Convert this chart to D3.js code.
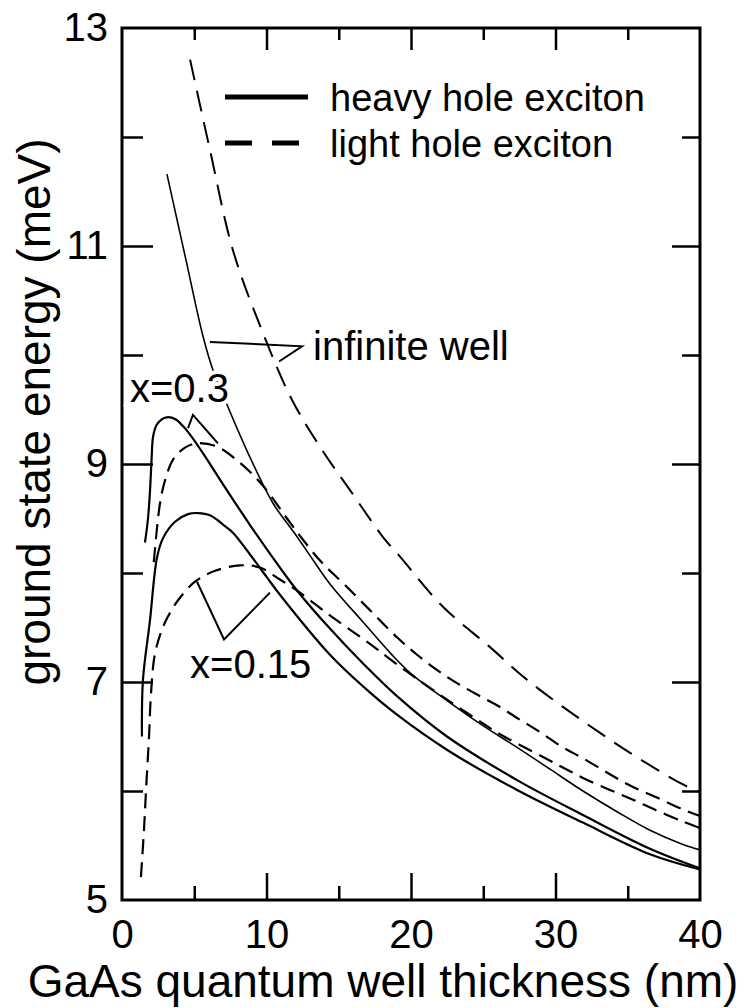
<!DOCTYPE html>
<html>
<head>
<meta charset="utf-8">
<script src="https://cdn.jsdelivr.net/npm/d3@7"></script>
<style>
  body { margin: 0; background: #fff; }
  svg { display: block; font-family: "Liberation Sans", Arial, sans-serif; }
  .tick line { stroke: #000; stroke-width: 2.5px; }
  .tick text { font-size: 40px; fill: #000; }
</style>
</head>
<body>
<svg id="chart" width="744" height="1008"></svg>
<script>
// ground state exciton binding energy (meV) vs. well thickness (nm)
var infiniteLH = [[4.71,12.71],[6.09,11.88],[7.68,10.96],[9.76,10.20],[11.76,9.59],[13.84,9.13],
  [15.78,8.76],[18.06,8.33],[19.24,8.15],[22.21,7.69],[25.47,7.32],[28.03,7.02],[31.49,6.68],
  [35.16,6.35],[38.82,6.06],[40,5.99]];
var infiniteHH = [[3.11,11.66],[4.43,10.87],[5.61,10.17],[6.30,9.86],[7.47,9.48],[8.86,9.06],
  [10.45,8.64],[11.97,8.36],[13.22,8.12],[14.39,7.90],[16.68,7.55],[18.75,7.24],[20.14,7.06],
  [22.49,6.83],[24.98,6.60],[27.34,6.40],[29.62,6.20],[31.90,6.00],[34.26,5.81],[36.54,5.64],
  [38.82,5.51],[40,5.46]];
var x03LH = [[2.20,8.10],[2.63,8.64],[3.00,8.86],[3.53,9.04],[4.36,9.15],[5.19,9.19],[6.57,9.16],
  [8.17,9.01],[9.76,8.80],[11.42,8.50],[12.32,8.34],[13.80,8.10],[15.43,7.89],[17.37,7.63],
  [19.03,7.41],[20.42,7.25],[22.01,7.09],[23.18,6.99],[24.64,6.88],[26.16,6.77],[27.34,6.67],
  [28.93,6.54],[30.52,6.40],[31.90,6.30],[33.56,6.17],[35.16,6.05],[37.02,5.94],[38.82,5.83],
  [40,5.77]];
var x03HH = [[1.59,8.28],[1.80,8.50],[1.94,8.76],[2.05,9.05],[2.15,9.25],[2.40,9.36],[2.75,9.41],
  [3.18,9.43],[3.70,9.41],[4.20,9.35],[4.71,9.27],[5.60,9.10],[6.57,8.90],[8.86,8.44],
  [10.93,8.05],[12.11,7.84],[14.39,7.49],[16.68,7.17],[19.03,6.87],[22.49,6.50],[27.34,6.10],
  [31.90,5.78],[36.54,5.47],[40,5.29]];
var x015LH = [[1.31,5.21],[1.52,5.64],[1.66,6.00],[1.87,6.50],[2.01,6.90],[2.28,7.26],[2.77,7.48],
  [3.18,7.60],[3.88,7.75],[5.05,7.92],[6.44,8.02],[8.17,8.07],[9.55,8.05],[10.93,7.94],
  [12.32,7.82],[14.19,7.63],[15.99,7.46],[17.37,7.33],[18.34,7.23],[20.62,7.01],[22.70,6.82],
  [24.98,6.62],[26.16,6.52],[28.44,6.36],[30.31,6.23],[31.90,6.12],[33.77,6.01],[35.36,5.92],
  [37.02,5.82],[38.82,5.72],[40,5.66]];
var x015HH = [[1.38,6.50],[1.45,7.02],[1.94,7.57],[2.42,8.14],[2.84,8.32],[3.67,8.47],[4.57,8.54],
  [5.26,8.55],[6.09,8.53],[7.13,8.43],[7.68,8.37],[8.86,8.17],[10.03,7.96],[10.93,7.80],
  [14.39,7.25],[16.68,6.96],[19.03,6.70],[22.70,6.36],[27.34,6.01],[31.90,5.71],[36.54,5.42],
  [40,5.28]];

// label pointers, in data units
var infWellPointer = [[6.09,10.12],[12.46,10.08],[10.87,9.94]];
var x03Pointer = [[4.57,9.33],[4.91,9.45],[6.64,9.19]];
var x015Pointer = [[5.19,7.92],[7.06,7.39],[10.24,7.82]];

var xLabelTicks = [0,10,20,30,40];
var xMajorTicks = [10,20,30];
var xMinorTicks = [5,15,25,35];
var yLabelTicks = [13,11,9,7,5];
var yMajorTicks = [11,9,7];
var yMinorTicks = [12,10,8,6];

var svg = d3.select('#chart');
var x = d3.scaleLinear().domain([0,40]).range([122,700]);
var y = d3.scaleLinear().domain([5,13]).range([900,28]);

function noDomain(g) { g.select('.domain').remove(); }

// ticks point inward on all four sides
svg.append('g').attr('transform','translate(122,0)')
  .call(d3.axisLeft(y).tickValues(yLabelTicks).tickSize(0).tickPadding(14).tickFormat(d3.format('d')))
  .call(noDomain);
svg.append('g').attr('transform','translate(122,0)')
  .call(d3.axisLeft(y).tickValues(yMajorTicks).tickSize(-31).tickFormat('')).call(noDomain);
svg.append('g').attr('transform','translate(122,0)')
  .call(d3.axisLeft(y).tickValues(yMinorTicks).tickSize(-21).tickFormat('')).call(noDomain);
svg.append('g').attr('transform','translate(700,0)')
  .call(d3.axisRight(y).tickValues(yMajorTicks).tickSize(-28).tickFormat('')).call(noDomain);
svg.append('g').attr('transform','translate(700,0)')
  .call(d3.axisRight(y).tickValues(yMinorTicks).tickSize(-18).tickFormat('')).call(noDomain);

svg.append('g').attr('transform','translate(0,900)')
  .call(d3.axisBottom(x).tickValues(xLabelTicks).tickSize(0).tickPadding(20).tickFormat(d3.format('d')))
  .call(noDomain);
svg.append('g').attr('transform','translate(0,900)')
  .call(d3.axisBottom(x).tickValues(xMajorTicks).tickSize(-27).tickFormat('')).call(noDomain);
svg.append('g').attr('transform','translate(0,900)')
  .call(d3.axisBottom(x).tickValues(xMinorTicks).tickSize(-14).tickFormat('')).call(noDomain);
svg.append('g').attr('transform','translate(0,28)')
  .call(d3.axisTop(x).tickValues(xMajorTicks).tickSize(-22).tickFormat('')).call(noDomain);
svg.append('g').attr('transform','translate(0,28)')
  .call(d3.axisTop(x).tickValues(xMinorTicks).tickSize(-12).tickFormat('')).call(noDomain);

svg.append('rect')
  .attr('x', x(0)).attr('y', y(13))
  .attr('width', x(40) - x(0)).attr('height', y(5) - y(13))
  .attr('fill','none').attr('stroke','#000').attr('stroke-width',3);

var line = d3.line()
  .x(function(d) { return x(d[0]); })
  .y(function(d) { return y(d[1]); })
  .curve(d3.curveCatmullRom.alpha(0.5));

var curves = [
  { data: infiniteLH, dash: '21,11', w: 2 },
  { data: x03LH, dash: '15,8', w: 2.2 },
  { data: x015LH, dash: '15,8', w: 2.2 },
  { data: infiniteHH, dash: null, w: 1.6 },
  { data: x03HH, dash: null, w: 2.2 },
  { data: x015HH, dash: null, w: 2.2 }
];

svg.append('g').selectAll('path')
  .data(curves)
  .enter().append('path')
    .attr('d', function(c) { return line(c.data); })
    .attr('fill','none')
    .attr('stroke','#000')
    .attr('stroke-width', function(c) { return c.w; })
    .attr('stroke-dasharray', function(c) { return c.dash; });

var pointer = d3.line()
  .x(function(d) { return x(d[0]); })
  .y(function(d) { return y(d[1]); });

svg.append('g').selectAll('path')
  .data([infWellPointer, x03Pointer, x015Pointer])
  .enter().append('path')
    .attr('d', pointer)
    .attr('fill','none')
    .attr('stroke','#000')
    .attr('stroke-width',2);

var note = svg.append('g').style('font-size','40px');
note.append('text').attr('x', x(13.22)).attr('y', y(10.09)).attr('dy','0.36em')
  .text('infinite well');
note.append('text').attr('x', x(0.55)).attr('y', y(9.70)).attr('dy','0.36em')
  .attr('stroke','#fff').attr('stroke-width',8).attr('paint-order','stroke')
  .text('x=0.3');
note.append('text').attr('x', x(4.71)).attr('y', y(7.17)).attr('dy','0.36em')
  .text('x=0.15');

// legend
var legend = svg.append('g');
legend.append('line').attr('x1',225).attr('x2',308).attr('y1',97).attr('y2',97)
  .attr('stroke','#000').attr('stroke-width',5);
legend.append('line').attr('x1',225).attr('x2',302).attr('y1',143).attr('y2',143)
  .attr('stroke','#000').attr('stroke-width',5).attr('stroke-dasharray','27,20');
legend.append('text').attr('x',330).attr('y',97).attr('dy','0.36em')
  .style('font-size','38px').text('heavy hole exciton');
legend.append('text').attr('x',330).attr('y',143).attr('dy','0.36em')
  .style('font-size','38px').text('light hole exciton');

// axis titles
svg.append('text')
  .attr('x', 383).attr('y', 997)
  .attr('text-anchor','middle')
  .style('font-size','46px')
  .text('GaAs quantum well thickness (nm)');
svg.append('text')
  .attr('transform','translate(50,412) rotate(-90)')
  .attr('text-anchor','middle')
  .style('font-size','46px')
  .text('ground state energy (meV)');
</script>
</body>
</html>
